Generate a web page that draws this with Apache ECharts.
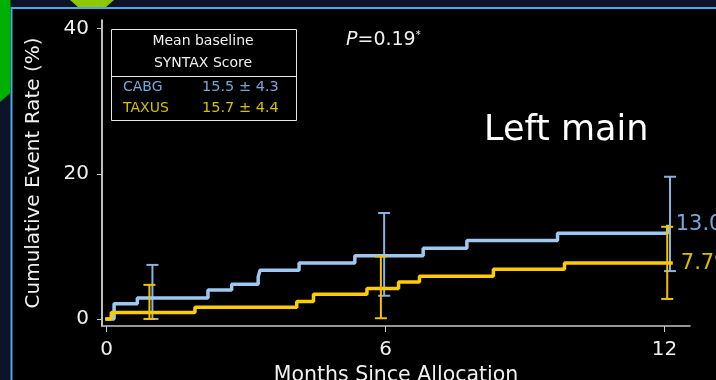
<!DOCTYPE html>
<html>
<head>
<meta charset="utf-8">
<script src="https://cdn.jsdelivr.net/npm/echarts@6/dist/echarts.min.js"></script>
<style>
  html, body { margin: 0; padding: 0; background: #0d1329; }
  #chart { width: 716px; height: 380px; }
</style>
</head>
<body>
<div id="chart"></div>
<script>
// Kaplan-Meier style cumulative event curves: [month, cumulative %]
const cabgCurve = [
  [-0.03, 0], [0.16, 2.1], [0.66, 2.9], [2.18, 4.0], [2.69, 4.8], [3.26, 5.8],
  [3.3, 6.7], [4.14, 7.7], [5.34, 8.7], [6.81, 9.75], [7.75, 10.8], [9.7, 11.8],
  [12.07, 13.0]
];
const taxusCurve = [
  [-0.03, 0], [0.1, 0.9], [1.9, 1.6], [4.09, 2.4], [4.45, 3.4], [5.6, 4.2],
  [6.28, 5.1], [6.73, 5.9], [8.32, 6.85], [9.85, 7.7], [12.18, 7.7]
];
// 95% confidence intervals: [month, low, high]
const cabgCI = [[0.985, 0, 7.45], [5.97, 3.2, 14.6], [12.12, 6.6, 19.6]];
const taxusCI = [[0.92, 0, 4.7], [5.9, 0.1, 8.6], [12.06, 2.76, 12.7]];

const xTicks = [0, 6, 12];
const yTicks = [0, 20, 40];
const groupNames = ['CABG', 'TAXUS'];
const baselineScores = ['15.5 \u00b1 4.3', '15.7 \u00b1 4.4'];

const BLUE = '#9cc8f2';
const BLUE_BAR = '#86b3e2';
const BLUE_TEXT = '#78a6da';
const YELLOW = '#ffcc00';
const YELLOW_BAR = '#f2c200';
const YELLOW_TEXT = '#d6c000';
const FONT = 'DejaVu Sans';

const chart = echarts.init(document.getElementById('chart'));

function errorBars(color) {
  return function (params, api) {
    const x = api.value(0);
    const lo = api.coord([x, api.value(1)]);
    const hi = api.coord([x, api.value(2)]);
    const half = 6;
    const style = { stroke: color, lineWidth: 2 };
    return {
      type: 'group',
      children: [
        { type: 'line', shape: { x1: lo[0], y1: lo[1], x2: hi[0], y2: hi[1] }, style },
        { type: 'line', shape: { x1: hi[0] - half, y1: hi[1], x2: hi[0] + half, y2: hi[1] }, style },
        { type: 'line', shape: { x1: lo[0] - half, y1: lo[1], x2: lo[0] + half, y2: lo[1] }, style }
      ]
    };
  };
}

const lastCabg = cabgCurve[cabgCurve.length - 1][1];
const lastTaxus = taxusCurve[taxusCurve.length - 1][1];

chart.setOption({
  backgroundColor: '#0d1329',
  animation: false,
  textStyle: { fontFamily: FONT },
  graphic: [
    // slide panel
    { type: 'rect', z: -20, shape: { x: 11.5, y: 8, width: 720, height: 380 },
      style: { fill: '#000000', stroke: '#4ea6e6', lineWidth: 2 } },
    { type: 'polygon', z: -10, shape: { points: [[0, 0], [10.5, 0], [10.5, 93], [0, 102]] },
      style: { fill: '#00b000' } },
    { type: 'polygon', z: -10, shape: { points: [[70, 0], [114, 0], [106, 7], [78, 7]] },
      style: { fill: '#8ec800' } },
    // baseline score box
    { type: 'rect', z: 5, shape: { x: 111.5, y: 29.5, width: 185, height: 91 },
      style: { fill: '#000000', stroke: '#e8e8e8', lineWidth: 1 } },
    { type: 'line', z: 6, shape: { x1: 111.5, y1: 76.5, x2: 296.5, y2: 76.5 },
      style: { stroke: '#e8e8e8', lineWidth: 1 } },
    { type: 'text', z: 6, style: { x: 203, y: 41, text: 'Mean baseline', fill: '#f0f0f0',
      font: '14px ' + FONT, align: 'center', verticalAlign: 'middle' } },
    { type: 'text', z: 6, style: { x: 203, y: 63, text: 'SYNTAX Score', fill: '#f0f0f0',
      font: '14px ' + FONT, align: 'center', verticalAlign: 'middle' } },
    { type: 'text', z: 6, style: { x: 123, y: 87, text: groupNames[0], fill: BLUE_TEXT,
      font: '14px ' + FONT, verticalAlign: 'middle' } },
    { type: 'text', z: 6, style: { x: 202, y: 87, text: baselineScores[0], fill: BLUE_TEXT,
      font: '14.5px ' + FONT, verticalAlign: 'middle' } },
    { type: 'text', z: 6, style: { x: 123, y: 108, text: groupNames[1], fill: YELLOW_TEXT,
      font: '14px ' + FONT, verticalAlign: 'middle' } },
    { type: 'text', z: 6, style: { x: 202, y: 108, text: baselineScores[1], fill: YELLOW_TEXT,
      font: '14.5px ' + FONT, verticalAlign: 'middle' } },
    // P value
    { type: 'text', z: 6, style: { x: 346, y: 40, fill: '#f0f0f0', verticalAlign: 'middle',
      text: '{p|P}{v|=0.19}{s|*}',
      rich: {
        p: { fontSize: 19, fontStyle: 'italic', fontFamily: FONT, fill: '#f0f0f0' },
        v: { fontSize: 19, fontFamily: FONT, fill: '#f0f0f0' },
        s: { fontSize: 10, fontFamily: FONT, fill: '#f0f0f0', verticalAlign: 'top', padding: [0, 0, 8, 0] }
      } } },
    { type: 'text', z: 6, style: { x: 484, y: 131, text: 'Left main', fill: '#ffffff',
      font: '35px ' + FONT, verticalAlign: 'middle' } }
  ],
  grid: { left: 102, right: 26, top: 20, bottom: 54, containLabel: false, outerBoundsMode: 'none' },
  xAxis: {
    type: 'value', min: -0.1, max: 12.55,
    name: 'Months Since Allocation', nameLocation: 'middle', nameGap: 30,
    nameTextStyle: { color: '#f0f0f0', fontSize: 20.5, fontFamily: FONT },
    axisLine: { show: true, onZero: false, lineStyle: { color: '#c8c8c8', width: 1.5 } },
    axisTick: { show: true, customValues: xTicks, length: 6, lineStyle: { color: '#c8c8c8' } },
    axisLabel: { customValues: xTicks, color: '#f0f0f0', fontSize: 20, margin: 14, fontFamily: FONT },
    splitLine: { show: false }
  },
  yAxis: {
    type: 'value', min: -0.97, max: 41.2,
    name: 'Cumulative Event Rate (%)', nameLocation: 'middle', nameGap: 58, nameRotate: 90,
    nameTextStyle: { color: '#f0f0f0', fontSize: 20, fontFamily: FONT },
    axisLine: { show: true, onZero: false, lineStyle: { color: '#ffffff', width: 1.5 } },
    axisTick: { show: true, customValues: yTicks, length: 5, lineStyle: { color: '#c8c8c8' } },
    axisLabel: { customValues: yTicks, color: '#f0f0f0', fontSize: 20, margin: 13, fontFamily: FONT },
    splitLine: { show: false }
  },
  series: [
    {
      name: 'TAXUS', type: 'line', step: 'end', data: taxusCurve, z: 3,
      showSymbol: false, lineStyle: { color: YELLOW, width: 3.5 },
      endLabel: { show: true, formatter: () => lastTaxus.toFixed(1) + '%', color: YELLOW_TEXT,
        fontSize: 21, fontFamily: FONT, distance: 8 }
    },
    {
      name: 'CABG', type: 'line', step: 'end', data: cabgCurve, z: 2,
      showSymbol: false, lineStyle: { color: BLUE, width: 3.5 },
      endLabel: { show: true, formatter: () => lastCabg.toFixed(1) + '%', color: BLUE_TEXT,
        fontSize: 21, fontFamily: FONT, distance: 8 }
    },
    { name: 'CABG CI', type: 'custom', data: cabgCI, renderItem: errorBars(BLUE_BAR), z: 2 },
    { name: 'TAXUS CI', type: 'custom', data: taxusCI, renderItem: errorBars(YELLOW_BAR), z: 4 }
  ]
});
</script>
</body>
</html>
